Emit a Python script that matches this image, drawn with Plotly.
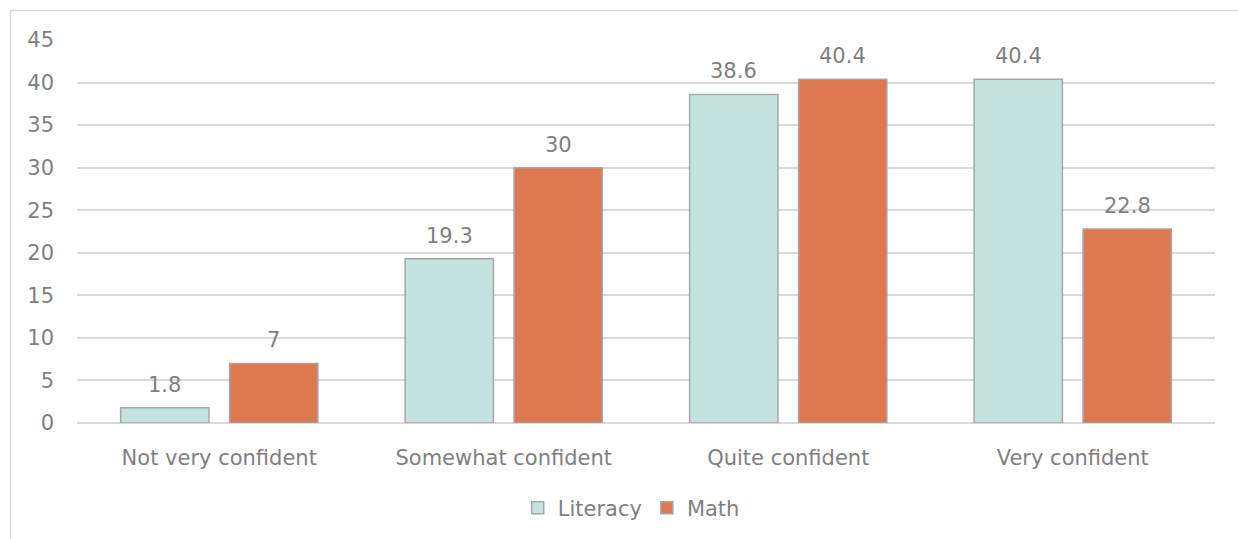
import plotly.graph_objects as go

categories = ["Not very confident", "Somewhat confident", "Quite confident", "Very confident"]
literacy = [1.8, 19.3, 38.6, 40.4]
math = [7, 30, 40.4, 22.8]
y_ticks = [0, 5, 10, 15, 20, 25, 30, 35, 40, 45]

W, H = 1238, 539
ml, mr, mt, mb = 77, 23, 40, 115
pw, ph = W - ml - mr, H - mt - mb

font_family = "DejaVu Sans"
fs = 21
text_color = "#7F7F7F"
outline = "#A6A6A6"
bargap, bargroupgap = 0.234, 0.19
slot_px = (1 - bargap) * (pw / len(categories)) / 2

fig = go.Figure()
fig.add_trace(go.Bar(
    name="Literacy", x=categories, y=literacy,
    marker=dict(color="#C5E3DE", line=dict(color=outline, width=1.5)),
))
fig.add_trace(go.Bar(
    name="Math", x=categories, y=math,
    marker=dict(color="#DD7851", line=dict(color=outline, width=1.5)),
))

for vals, sign in ((literacy, -1), (math, 1)):
    for c, v in zip(categories, vals):
        fig.add_annotation(x=c, y=v, xref="x", yref="y", text=f"{v:g}", showarrow=False,
                           xanchor="center", yanchor="bottom", xshift=sign * slot_px / 2, yshift=9,
                           font=dict(color=text_color, size=fs, family=font_family))

def px_x(p):
    return (p - ml) / pw

def px_y(p):
    return (H - mb - p) / ph

fig.add_shape(type="rect", xref="paper", yref="paper",
              x0=px_x(10.5), x1=px_x(1245), y0=px_y(550), y1=px_y(10.5),
              line=dict(color="#D9D9D9", width=1.5), fillcolor="rgba(0,0,0,0)", layer="below")

fig.update_layout(
    width=W, height=H,
    margin=dict(l=ml, r=mr, t=mt, b=mb, pad=0),
    paper_bgcolor="white", plot_bgcolor="white",
    barmode="group", bargap=bargap, bargroupgap=bargroupgap,
    font=dict(family=font_family, size=fs, color=text_color),
    showlegend=True,
    legend=dict(orientation="h", x=0.487, xanchor="center", y=px_y(508), yanchor="middle",
                font=dict(size=fs, color=text_color, family=font_family),
                itemwidth=30, traceorder="normal", tracegroupgap=0,
                bgcolor="rgba(0,0,0,0)"),
)
fig.update_xaxes(showgrid=False, showline=False, ticks="", ticklabelstandoff=20,
                 tickfont=dict(size=fs, color=text_color, family=font_family))
fig.update_yaxes(range=[0, 45], tickvals=y_ticks, showgrid=True, gridcolor="#D9D9D9", gridwidth=1.5,
                 zeroline=True, zerolinecolor="#D9D9D9", zerolinewidth=1.5, showline=False,
                 ticks="", ticklabelstandoff=22,
                 tickfont=dict(size=fs, color=text_color, family=font_family))

fig.write_html("out.html")
